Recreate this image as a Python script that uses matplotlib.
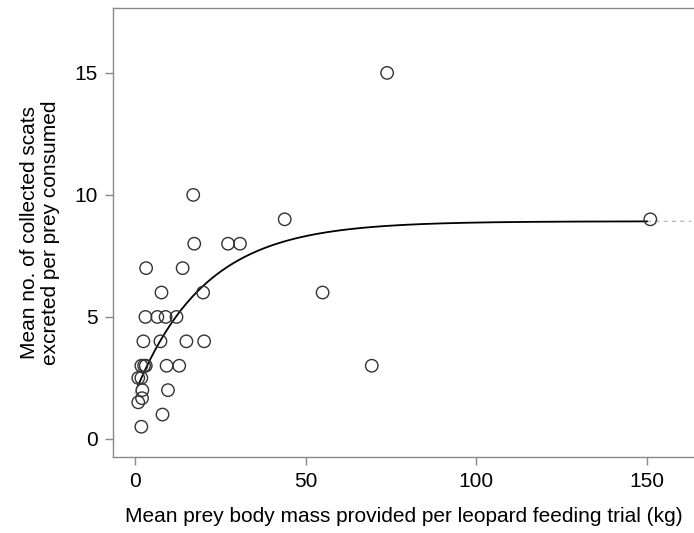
import matplotlib
matplotlib.use("Agg")
import matplotlib.pyplot as plt
import numpy as np

plt.rcParams['font.family'] = ['Liberation Sans', 'DejaVu Sans']

# mean prey body mass per trial (kg) and scats per prey consumed
prey_mass = [17.1, 43.9, 17.4, 27.3, 30.8, 3.3, 14.0, 7.8, 20.0, 55.0,
             3.1, 6.6, 9.0, 12.2, 2.5, 7.5, 15.1, 20.3, 1.9, 2.7,
             3.2, 9.3, 13.0, 1.0, 1.9, 2.2, 9.7, 2.1, 1.0, 8.1,
             1.9, 73.9, 151.0, 69.4]
scats = [10, 9, 8, 8, 8, 7, 7, 6, 6, 6,
         5, 5, 5, 5, 4, 4, 4, 4, 3, 3,
         3, 3, 3, 2.5, 2.5, 2, 2, 1.67, 1.5, 1,
         0.5, 15, 9, 3]

# fitted asymptotic curve  y = A - (A - y0) * exp(-k (x - x0))
fit_A = 8.92
fit_y0 = 2.2
fit_x0 = 1.0
fit_k = 0.049

def fit(x):
    return fit_A - (fit_A - fit_y0) * np.exp(-fit_k * (x - fit_x0))

x_ticks = [0, 50, 100, 150]
y_ticks = [0, 5, 10, 15]

fig = plt.figure(figsize=(6.94, 5.33), dpi=100)
ax = fig.add_axes([113 / 694, 1 - 457 / 533, 1 - 113 / 694, (457 - 8) / 533])

xs = np.linspace(fit_x0, 150, 400)
ax.plot(xs, fit(xs), color='black', lw=1.3, zorder=2)
xe = np.linspace(150, 163, 20)
ax.plot(xe, fit(xe), color='#bbbbbb', lw=1.0, ls=(0, (3, 3)), zorder=1)
xb = np.linspace(0, fit_x0, 5)
ax.plot(xb, fit(xb), color='#bbbbbb', lw=1.0, zorder=1)

ax.scatter(prey_mass, scats, s=80, facecolors='none', edgecolors='#333333',
           linewidths=1.0, zorder=3)

ax.set_xlim(-6.4, 163.8)
ax.set_ylim(-0.74, 17.66)
ax.set_xticks(x_ticks)
ax.set_yticks(y_ticks)

for side in ['left', 'bottom', 'top']:
    ax.spines[side].set_color('#888888')
    ax.spines[side].set_linewidth(1.0)
ax.spines['right'].set_visible(False)
ax.tick_params(direction='out', length=6, width=1.0, color='#888888',
               labelsize=15, labelcolor='black', pad=5)

ax.set_xlabel('Mean prey body mass provided per leopard feeding trial (kg)',
              fontsize=15, labelpad=11)
ax.set_ylabel('Mean no. of collected scats\nexcreted per prey consumed',
              fontsize=15, labelpad=10, linespacing=1.15)

fig.savefig('out.png', dpi=100)
